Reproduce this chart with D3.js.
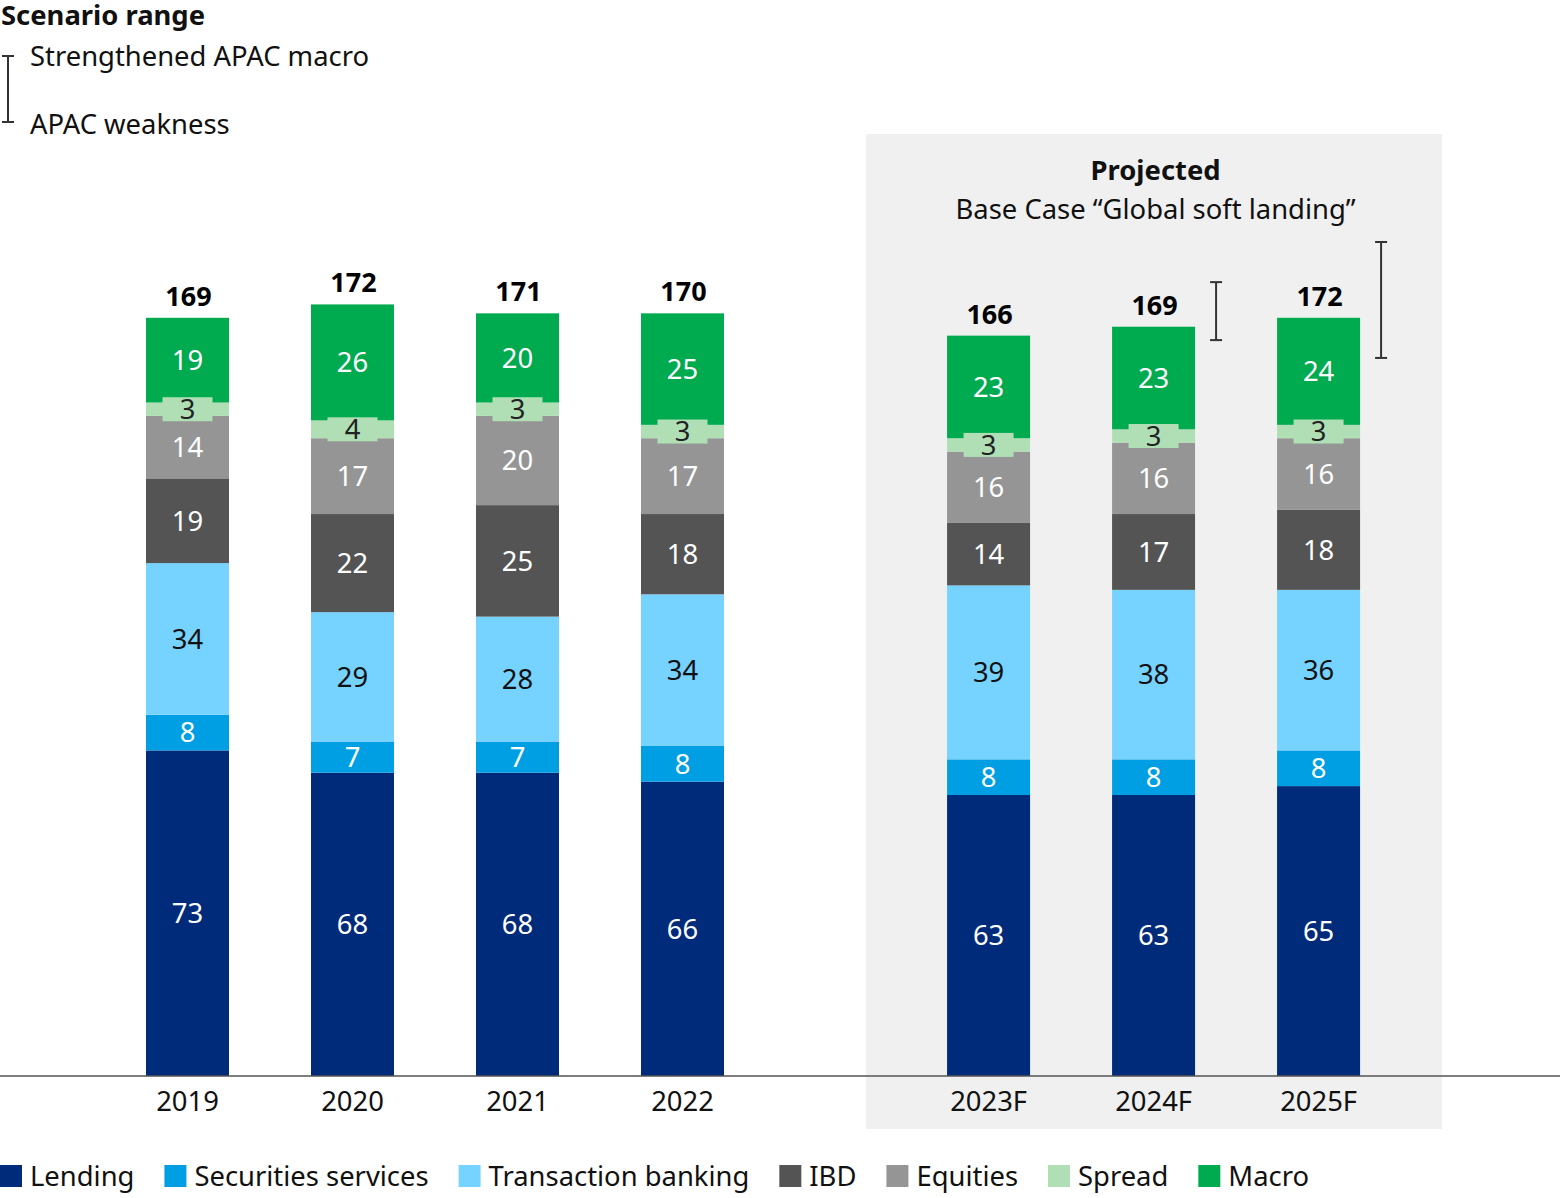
<!DOCTYPE html>
<html><head><meta charset="utf-8">
<script src="https://cdn.jsdelivr.net/npm/d3@7"></script>
<style>
html,body{margin:0;padding:0;background:#fff;}
svg{display:block;font-family:"Noto Sans","Open Sans",sans-serif;}
</style></head>
<body>
<svg id="chart" width="1560" height="1198"></svg>
<script>
const categories = ["2019","2020","2021","2022","2023F","2024F","2025F"];
const projected = [false,false,false,false,true,true,true];
const seriesNames = ["Lending","Securities services","Transaction banking","IBD","Equities","Spread","Macro"];
const lending = [73,68,68,66,63,63,65];
const securities = [8,7,7,8,8,8,8];
const transaction = [34,29,28,34,39,38,36];
const ibd = [19,22,25,18,14,17,18];
const equities = [14,17,20,17,16,16,16];
const spread = [3,4,3,3,3,3,3];
const macro = [19,26,20,25,23,23,24];
const totals = [169,172,171,170,166,169,172];
const rangeLow = [null,null,null,null,null,165,161];
const rangeHigh = [null,null,null,null,null,178,187];

const colors = ["#002b7a","#009fe3","#76d2ff","#545454","#959595","#b0dfb6","#00aa4f"];
const labelColors = ["#fff","#fff","#111","#fff","#fff","#222","#fff"];
const seriesVals = [lending,securities,transaction,ibd,equities,spread,macro];

const svg = d3.select("#chart");
const baseY = 1076;
const FS = 27.4;
const y = d3.scaleLinear().domain([0,170]).range([baseY, baseY-170*4.46]);
const slot = d3.scaleLinear().domain([0,1]).range([146,311]);
const gapSlots = 0.855;
const barW = 83;
const xLeft = i => slot(i + (projected[i] ? gapSlots : 0));

// projected panel
const firstP = projected.indexOf(true);
svg.append("rect").attr("x", xLeft(firstP)-81).attr("y",134)
  .attr("width", xLeft(categories.length-1)+barW+82 - (xLeft(firstP)-81)).attr("height",995)
  .attr("fill","#eff0ef");
const pcx = (xLeft(firstP) + xLeft(categories.length-1)+barW)/2;
svg.append("text").attr("x",pcx+2).attr("y",180).attr("text-anchor","middle")
  .attr("font-size",FS).attr("font-weight","bold").attr("fill","#111").text("Projected");
svg.append("text").attr("x",pcx+2).attr("y",219).attr("text-anchor","middle")
  .attr("font-size",FS).attr("fill","#111").text("Base Case \u201cGlobal soft landing\u201d");

// stacks
const rows = categories.map((c,i)=>{const o={cat:c,i};seriesNames.forEach((s,k)=>o[s]=seriesVals[k][i]);return o;});
const stack = d3.stack().keys(seriesNames)(rows);

stack.forEach((layer,k)=>{
  const g = svg.append("g");
  layer.forEach((d,i)=>{
    g.append("rect").attr("x",xLeft(i)).attr("width",barW)
      .attr("y",y(d[1])).attr("height",y(d[0])-y(d[1])).attr("fill",colors[k]);
  });
});
// labels
stack.forEach((layer,k)=>{
  layer.forEach((d,i)=>{
    const cx = xLeft(i)+barW/2, cy=(y(d[0])+y(d[1]))/2;
    if (seriesNames[k]==="Spread"){
      svg.append("rect").attr("x",cx-25).attr("y",cy-12).attr("width",50).attr("height",24).attr("fill",colors[k]);
    }
    svg.append("text").attr("x",cx).attr("y",cy).attr("dy","0.36em")
      .attr("text-anchor","middle").attr("font-size",FS).attr("fill",labelColors[k])
      .text(seriesVals[k][i]);
  });
});
// totals
const topLayer = stack[stack.length-1];
categories.forEach((c,i)=>{
  svg.append("text").attr("x",xLeft(i)+barW/2+1).attr("y",y(topLayer[i][1])-12)
    .attr("text-anchor","middle").attr("font-size",27).attr("font-weight","bold").attr("fill","#000")
    .text(totals[i]);
});
// range bars
function rangeBar(x,y1,y2){
  const g=svg.append("g").attr("stroke","#333").attr("stroke-width",2);
  g.append("line").attr("x1",x).attr("x2",x).attr("y1",y1).attr("y2",y2);
  g.append("line").attr("x1",x-6).attr("x2",x+6).attr("y1",y1).attr("y2",y1);
  g.append("line").attr("x1",x-6).attr("x2",x+6).attr("y1",y2).attr("y2",y2);
}
categories.forEach((c,i)=>{
  if(rangeLow[i]!=null) rangeBar(xLeft(i)+barW+21, y(rangeHigh[i]), y(rangeLow[i]));
});

// axis
svg.append("line").attr("x1",0).attr("x2",1560).attr("y1",baseY).attr("y2",baseY)
  .attr("stroke","#555").attr("stroke-width",1.5);
categories.forEach((c,i)=>{
  svg.append("text").attr("x",xLeft(i)+barW/2).attr("y",1111).attr("text-anchor","middle")
    .attr("font-size",FS).attr("fill","#111").text(c);
});

// scenario legend
svg.append("text").attr("x",1).attr("y",25).attr("font-size",FS).attr("font-weight","bold").attr("fill","#111").text("Scenario range");
rangeBar(8,56,122);
svg.append("text").attr("x",30).attr("y",66).attr("font-size",FS).attr("fill","#111").text("Strengthened APAC macro");
svg.append("text").attr("x",30).attr("y",134).attr("font-size",FS).attr("fill","#111").text("APAC weakness");

// legend
let lx = 0;
seriesNames.forEach((s,k)=>{
  svg.append("rect").attr("x",lx).attr("y",1165).attr("width",22).attr("height",22).attr("fill",colors[k]);
  const t = svg.append("text").attr("x",lx+30).attr("y",1186).attr("font-size",FS).attr("fill","#111").text(s);
  lx = lx + 30 + t.node().getComputedTextLength() + 30;
});
</script>
</body></html>
